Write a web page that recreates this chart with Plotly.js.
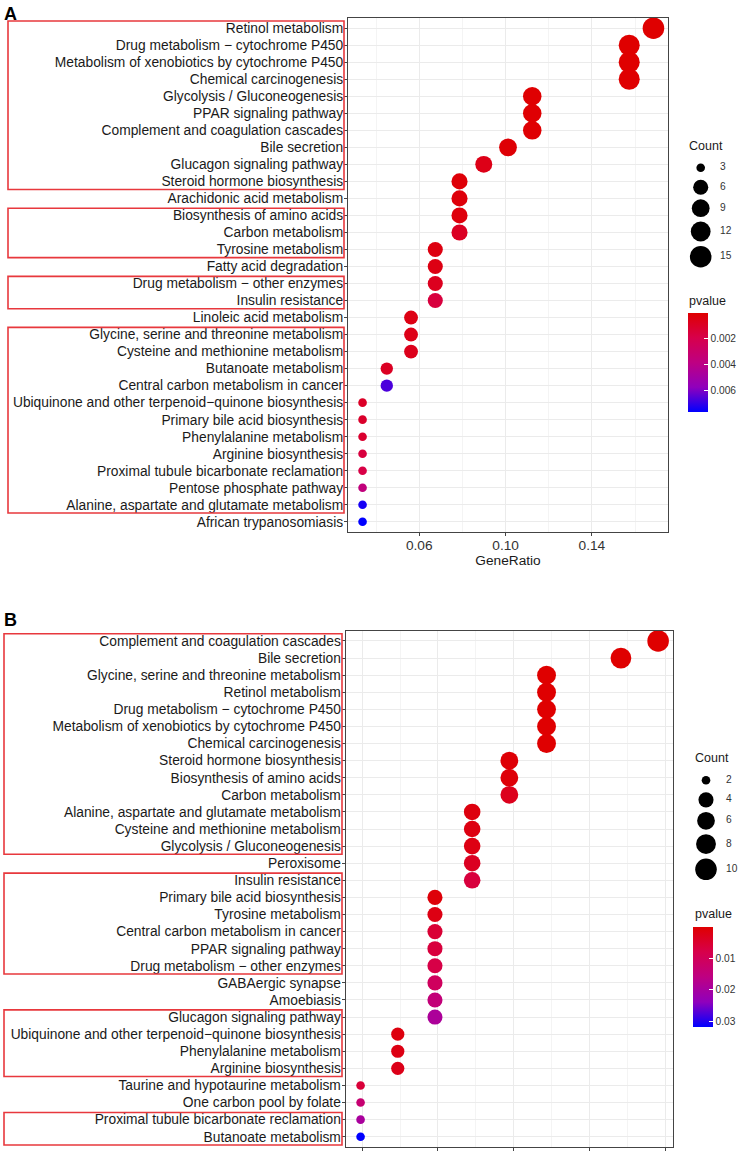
<!DOCTYPE html>
<html>
<head>
<meta charset="utf-8">
<script src="https://cdn.plot.ly/plotly-3.0.1.min.js"></script>
<style>
  html, body { margin: 0; padding: 0; background: #fff; }
  #chart { width: 742px; height: 1152px; }
</style>
</head>
<body>
<div id="chart"></div>
<script>
// ---- panel A: KEGG terms, gene count (GeneRatio = count / 89), p-value
const termsA = [
    'Retinol metabolism',
    'Drug metabolism \u2212 cytochrome P450',
    'Metabolism of xenobiotics by cytochrome P450',
    'Chemical carcinogenesis',
    'Glycolysis / Gluconeogenesis',
    'PPAR signaling pathway',
    'Complement and coagulation cascades',
    'Bile secretion',
    'Glucagon signaling pathway',
    'Steroid hormone biosynthesis',
    'Arachidonic acid metabolism',
    'Biosynthesis of amino acids',
    'Carbon metabolism',
    'Tyrosine metabolism',
    'Fatty acid degradation',
    'Drug metabolism \u2212 other enzymes',
    'Insulin resistance',
    'Linoleic acid metabolism',
    'Glycine, serine and threonine metabolism',
    'Cysteine and methionine metabolism',
    'Butanoate metabolism',
    'Central carbon metabolism in cancer',
    'Ubiquinone and other terpenoid\u2212quinone biosynthesis',
    'Primary bile acid biosynthesis',
    'Phenylalanine metabolism',
    'Arginine biosynthesis',
    'Proximal tubule bicarbonate reclamation',
    'Pentose phosphate pathway',
    'Alanine, aspartate and glutamate metabolism',
    'African trypanosomiasis'
];
const countA = [15, 14, 14, 14, 10, 10, 10, 9, 8, 7, 7, 7, 7, 6, 6, 6, 6, 5, 5, 5, 4, 4, 3, 3, 3, 3, 3, 3, 3, 3];
const totalA = 89;
const pvalA = [0.0000002, 0.000005, 0.000008, 0.000015, 0.00006, 0.00008, 0.00009, 0.00014, 0.0006, 0.0002,
    0.00025, 0.0003, 0.0009, 0.0004, 0.0005, 0.0008, 0.0016, 0.0005, 0.0006, 0.0007,
    0.0009, 0.0067, 0.0010, 0.0011, 0.0012, 0.0016, 0.0018, 0.0036, 0.0074, 0.0077];

// ---- panel B
const termsB = [
    'Complement and coagulation cascades',
    'Bile secretion',
    'Glycine, serine and threonine metabolism',
    'Retinol metabolism',
    'Drug metabolism \u2212 cytochrome P450',
    'Metabolism of xenobiotics by cytochrome P450',
    'Chemical carcinogenesis',
    'Steroid hormone biosynthesis',
    'Biosynthesis of amino acids',
    'Carbon metabolism',
    'Alanine, aspartate and glutamate metabolism',
    'Cysteine and methionine metabolism',
    'Glycolysis / Gluconeogenesis',
    'Peroxisome',
    'Insulin resistance',
    'Primary bile acid biosynthesis',
    'Tyrosine metabolism',
    'Central carbon metabolism in cancer',
    'PPAR signaling pathway',
    'Drug metabolism \u2212 other enzymes',
    'GABAergic synapse',
    'Amoebiasis',
    'Glucagon signaling pathway',
    'Ubiquinone and other terpenoid\u2212quinone biosynthesis',
    'Phenylalanine metabolism',
    'Arginine biosynthesis',
    'Taurine and hypotaurine metabolism',
    'One carbon pool by folate',
    'Proximal tubule bicarbonate reclamation',
    'Butanoate metabolism'
];
const countB = [10, 9, 7, 7, 7, 7, 7, 6, 6, 6, 5, 5, 5, 5, 5, 4, 4, 4, 4, 4, 4, 4, 4, 3, 3, 3, 2, 2, 2, 2];
const totalB = 51;
const pvalB = [0.000001, 0.00002, 0.00005, 0.00008, 0.0001, 0.00011, 0.00015, 0.0006, 0.0008, 0.003,
    0.0015, 0.0018, 0.002, 0.0035, 0.0065, 0.001, 0.002, 0.0055, 0.0065, 0.0075,
    0.0105, 0.0145, 0.019, 0.0015, 0.002, 0.0025, 0.006, 0.0135, 0.0195, 0.0318];

// red boxes drawn over the term labels (first term, last term)
const boxesA = [
    ['Retinol metabolism', 'Steroid hormone biosynthesis'],
    ['Biosynthesis of amino acids', 'Tyrosine metabolism'],
    ['Drug metabolism \u2212 other enzymes', 'Insulin resistance'],
    ['Glycine, serine and threonine metabolism', 'Alanine, aspartate and glutamate metabolism']
];
const boxesB = [
    ['Complement and coagulation cascades', 'Glycolysis / Gluconeogenesis'],
    ['Insulin resistance', 'Drug metabolism \u2212 other enzymes'],
    ['Glucagon signaling pathway', 'Arginine biosynthesis'],
    ['Proximal tubule bicarbonate reclamation', 'Butanoate metabolism']
];

const sizeBreaksA = [3, 6, 9, 12, 15];
const sizeBreaksB = [2, 4, 6, 8, 10];
const pTicksA = [0.002, 0.004, 0.006];
const pTicksB = [0.01, 0.02, 0.03];

// ---- helpers
const W = 742, H = 1152;
const px = x => x / W;
const py = y => 1 - y / H;
const FONT = 'Liberation Sans, Arial, sans-serif';

// ggplot scale_size(range = c(3, 8)), area based, converted to px diameter
function dotSize(c, lo, hi) {
    const s = 3 + 5 * Math.sqrt((c - lo) / (hi - lo));
    return 0.91 * (s * 2.845 + 0.945);
}

// red -> blue gradient (ggplot interpolates in Lab, so add midpoints)
const pScale = [[0, '#0000FF'], [0.25, '#9000BC'], [0.5, '#BE0082'], [0.75, '#D7004B'], [1, '#DF0000']];

function dotTrace(terms, counts, total, pvals, ticks, xa, ya, cbTop) {
    const lo = Math.min(...counts), hi = Math.max(...counts);
    const pmin = Math.min(...pvals), pmax = Math.max(...pvals);
    return {
        type: 'scatter',
        mode: 'markers',
        x: counts.map(c => c / total),
        y: terms,
        xaxis: xa,
        yaxis: ya,
        cliponaxis: false,
        hoverinfo: 'x+y',
        marker: {
            size: counts.map(c => dotSize(c, lo, hi)),
            sizemode: 'diameter',
            // negated so the bar reads top-down (small p on top), like ggplot
            color: pvals.map(p => -p),
            cmin: -pmax,
            cmax: -pmin,
            colorscale: pScale,
            line: { width: 0 },
            opacity: 1,
            colorbar: {
                x: px(cbTop.x), xanchor: 'left', xpad: 0,
                y: py(cbTop.y), yanchor: 'top', ypad: 0,
                len: cbTop.len, lenmode: 'pixels',
                thickness: 20, thicknessmode: 'pixels',
                outlinewidth: 0,
                ticks: 'inside', ticklen: 4, tickcolor: '#ffffff', tickwidth: 1,
                tickvals: ticks.map(t => -t),
                ticktext: ticks.map(t => String(t)),
                tickfont: { family: FONT, size: 10.2, color: '#333333' },
                title: { text: '' }
            }
        }
    };
}

function sizeLegend(breaks, lo, hi, x, y0, labelX) {
    const d = breaks.map(b => dotSize(b, lo, hi));
    const kh = d.map(v => Math.max(19.5, v + 4.5));
    const ys = [y0];
    for (let i = 1; i < breaks.length; i++) ys.push(ys[i - 1] + (kh[i - 1] + kh[i]) / 2);
    return [
        {
            type: 'scatter', mode: 'markers', xaxis: 'x3', yaxis: 'y3',
            x: breaks.map(() => x), y: ys, hoverinfo: 'skip', cliponaxis: false,
            marker: { size: d, color: '#000000', opacity: 1, line: { width: 0 } }
        },
        {
            type: 'scatter', mode: 'text', xaxis: 'x3', yaxis: 'y3',
            x: breaks.map(() => labelX), y: ys, hoverinfo: 'skip', cliponaxis: false,
            text: breaks.map(String), textposition: 'middle right',
            textfont: { family: FONT, size: 10.2, color: '#333333' }
        }
    ];
}

function boxShapes(boxes, terms, yref, x0, x1) {
    return boxes.map(([a, b]) => ({
        type: 'rect', xref: 'paper', yref: yref,
        x0: px(x0), x1: px(x1),
        y0: terms.indexOf(a) - 0.42, y1: terms.indexOf(b) + 0.48,
        line: { color: '#E8383D', width: 1.6 },
        fillcolor: 'rgba(0,0,0,0)',
        layer: 'above'
    }));
}

const traces = [
    dotTrace(termsA, countA, totalA, pvalA, pTicksA, 'x', 'y', { x: 687.7, y: 313, len: 99 }),
    dotTrace(termsB, countB, totalB, pvalB, pTicksB, 'x2', 'y2', { x: 693.3, y: 926.7, len: 100 }),
    ...sizeLegend(sizeBreaksA, 3, 15, 700.7, 167.7, 720),
    ...sizeLegend(sizeBreaksB, 2, 10, 706, 780.3, 726)
];

const gridColor = '#EBEBEB';
const frame = {
    showline: true, mirror: true, linecolor: '#444444', linewidth: 1.07,
    ticks: 'outside', ticklen: 3, tickcolor: '#444444', tickwidth: 1,
    showgrid: true, gridcolor: gridColor, gridwidth: 1,
    zeroline: false, fixedrange: true
};
const yText = { family: FONT, size: 13.8, color: '#1A1A1A' };

// x range = data range expanded by 5 % each side (ggplot default)
function xRange(counts, total) {
    const lo = Math.min(...counts) / total, hi = Math.max(...counts) / total;
    const pad = (hi - lo) * 0.05;
    return [lo - pad, hi + pad];
}

const layout = {
    width: W,
    height: H,
    margin: { l: 0, r: 0, t: 0, b: 0 },
    paper_bgcolor: '#ffffff',
    // transparent, otherwise the full-size legend overlay hides the panels
    plot_bgcolor: 'rgba(0,0,0,0)',
    showlegend: false,
    font: { family: FONT, color: '#1A1A1A' },
    xaxis: Object.assign({}, frame, {
        domain: [px(348), px(668)], anchor: 'y',
        range: xRange(countA, totalA),
        tick0: 0.02, dtick: 0.04, tickformat: '.2f',
        ticklabelstandoff: -3,
        minor: { tick0: 0, dtick: 0.02, showgrid: true, gridcolor: gridColor, gridwidth: 0.55, ticks: '' },
        tickfont: { family: FONT, size: 13.7, color: '#333333' },
        title: { text: 'GeneRatio', font: { family: FONT, size: 13.7, color: '#1A1A1A' }, standoff: 0 }
    }),
    yaxis: Object.assign({}, frame, {
        domain: [py(532), py(18)], anchor: 'x',
        type: 'category', categoryorder: 'array', categoryarray: termsA,
        range: [termsA.length - 0.4, -0.6],
        ticklabelstandoff: -2,
        tickfont: yText
    }),
    xaxis2: Object.assign({}, frame, {
        domain: [px(345.7), px(673)], anchor: 'y2',
        range: xRange(countB, totalB),
        tick0: 0, dtick: 0.04,
        minor: { tick0: 0, dtick: 0.02, showgrid: true, gridcolor: gridColor, gridwidth: 0.55, ticks: '' },
        showticklabels: false
    }),
    yaxis2: Object.assign({}, frame, {
        domain: [py(1147), py(630.7)], anchor: 'x2',
        type: 'category', categoryorder: 'array', categoryarray: termsB,
        range: [termsB.length - 0.4, -0.6],
        ticklabelstandoff: -2,
        tickfont: yText
    }),
    // pixel overlay used for the size legends
    xaxis3: { domain: [0, 1], anchor: 'y3', range: [0, W], visible: false, fixedrange: true },
    yaxis3: { domain: [0, 1], anchor: 'x3', range: [H, 0], visible: false, fixedrange: true },
    shapes: [
        ...boxShapes(boxesA, termsA, 'y', 8, 344),
        ...boxShapes(boxesB, termsB, 'y2', 4, 342)
    ],
    annotations: [
        { text: '<b>A</b>', x: px(2), y: py(2), xanchor: 'left', yanchor: 'top', font: { size: 18, color: '#000' } },
        { text: '<b>B</b>', x: px(2), y: py(608), xanchor: 'left', yanchor: 'top', font: { size: 18, color: '#000' } },
        { text: 'Count', x: px(687), y: py(145.7), xanchor: 'left', yanchor: 'middle', font: { size: 12.5 } },
        { text: 'pvalue', x: px(687), y: py(301), xanchor: 'left', yanchor: 'middle', font: { size: 12.5 } },
        { text: 'Count', x: px(692.5), y: py(758.3), xanchor: 'left', yanchor: 'middle', font: { size: 12.5 } },
        { text: 'pvalue', x: px(692.5), y: py(914.3), xanchor: 'left', yanchor: 'middle', font: { size: 12.5 } }
    ].map(a => Object.assign({ xref: 'paper', yref: 'paper', showarrow: false }, a,
        { font: Object.assign({ family: FONT, color: '#1A1A1A' }, a.font) }))
};

Plotly.newPlot('chart', traces, layout, { displayModeBar: false, staticPlot: true });
</script>
</body>
</html>
